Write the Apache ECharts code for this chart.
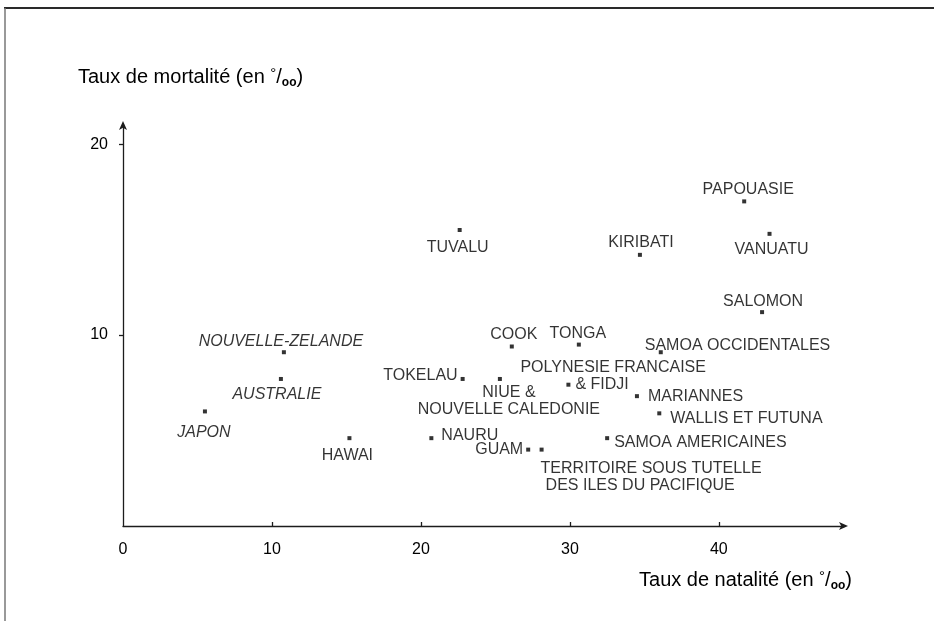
<!DOCTYPE html>
<html>
<head>
<meta charset="utf-8">
<script src="https://cdn.jsdelivr.net/npm/echarts@6/dist/echarts.min.js"></script>
<style>
  html, body { margin: 0; padding: 0; background: #fff; }
  #chart { width: 934px; height: 621px; }
</style>
</head>
<body>
<div id="chart"></div>
<script>
// Taux de natalité / mortalité (‰) des pays et territoires du Pacifique
const pays = [
  'JAPON', 'NOUVELLE-ZELANDE', 'AUSTRALIE', 'HAWAI', 'NAURU', 'TOKELAU',
  'TUVALU', 'COOK', 'TONGA', 'NIUE & NOUVELLE CALEDONIE',
  'POLYNESIE FRANCAISE & FIDJI', 'MARIANNES', 'WALLIS ET FUTUNA',
  'SAMOA AMERICAINES', 'GUAM', 'TERRITOIRE SOUS TUTELLE DES ILES DU PACIFIQUE',
  'SAMOA OCCIDENTALES', 'PAPOUASIE', 'KIRIBATI', 'VANUATU', 'SALOMON'
];
const natalite = [
  5.5, 10.8, 10.6, 15.2, 20.7, 22.8,
  22.6, 26.1, 30.6, 25.3,
  29.9, 34.5, 36.0,
  32.5, 27.2, 28.1,
  36.1, 41.7, 34.7, 43.4, 42.9
];
const mortalite = [
  6.0, 9.1, 7.7, 4.6, 4.6, 7.7,
  15.5, 9.4, 9.5, 7.7,
  7.4, 6.8, 5.9,
  4.6, 4.0, 4.0,
  9.1, 17.0, 14.2, 15.3, 11.2
];
const xTicks = [0, 10, 20, 30, 40];
const yTicks = [10, 20];
const titreY = 'Taux de mortalité (en ';
const titreX = 'Taux de natalité (en ';

const FONT = '"Liberation Sans", Arial, Helvetica, sans-serif';
const INK = '#000';

// Label placement around each point: offset of the text anchor from the point
const placement = {
  'JAPON': { off: [-1, 21], italic: true },
  'NOUVELLE-ZELANDE': { off: [-3, -11], italic: true },
  'AUSTRALIE': { off: [-4, 16], italic: true },
  'HAWAI': { off: [-2, 17] },
  'NAURU': { off: [10, -3], align: 'left' },
  'TOKELAU': { off: [-5, -3], align: 'right' },
  'TUVALU': { off: [-2, 18] },
  'COOK': { off: [2, -12] },
  'TONGA': { off: [-1, -11] },
  'NIUE & NOUVELLE CALEDONIE': { off: [9, 22], rich: '{a|NIUE &}\n{a|NOUVELLE CALEDONIE}' },
  'POLYNESIE FRANCAISE & FIDJI': { off: [-48, -9], align: 'left', rich: '{a|POLYNESIE FRANCAISE}\n{b|& FIDJI}' },
  'MARIANNES': { off: [11, 0], align: 'left' },
  'WALLIS ET FUTUNA': { off: [11, 5], align: 'left' },
  'SAMOA AMERICAINES': { off: [7, 4], align: 'left' },
  'GUAM': { off: [-5, 0], align: 'right' },
  'TERRITOIRE SOUS TUTELLE DES ILES DU PACIFIQUE': { off: [-1, 27], align: 'left', rich: '{a|TERRITOIRE SOUS TUTELLE}\n{c|DES ILES DU PACIFIQUE}' },
  'SAMOA OCCIDENTALES': { off: [-16, -7], align: 'left' },
  'PAPOUASIE': { off: [4, -12] },
  'KIRIBATI': { off: [1, -12] },
  'VANUATU': { off: [2, 16] },
  'SALOMON': { off: [1, -11] }
};

const LABEL_SIZE = 16;
const richBase = { fontFamily: FONT, fontSize: LABEL_SIZE, color: INK, lineHeight: 17 };
const labelRich = {
  a: Object.assign({}, richBase),
  b: Object.assign({ padding: [0, 0, 0, 55] }, richBase),
  c: Object.assign({ padding: [0, 0, 0, 5] }, richBase)
};

const points = pays.map((nom, i) => {
  const p = placement[nom] || { off: [0, -12] };
  return {
    name: nom,
    value: [natalite[i], mortalite[i]],
    label: {
      show: true,
      position: 'inside',
      offset: p.off,
      align: p.align || 'center',
      verticalAlign: 'middle',
      fontStyle: p.italic ? 'italic' : 'normal',
      formatter: p.rich || nom,
      rich: labelRich
    }
  };
});

// Axis titles with a per-mille mark drawn as "°/oo"
const per1000 = (txt) => '{t|' + txt + '}{sup|°}{t|/}{sub|oo}{t|)}';
const nameRich = {
  t: { fontFamily: FONT, fontSize: 20, fontWeight: 'normal', color: INK, lineHeight: 23, verticalAlign: 'middle' },
  sup: { fontFamily: FONT, fontSize: 15, fontWeight: 'normal', color: INK, verticalAlign: 'top', lineHeight: 23 },
  sub: { fontFamily: FONT, fontSize: 12, fontWeight: 'bold', color: INK, verticalAlign: 'bottom', lineHeight: 20 }
};

const axisLineStyle = { color: '#1c1c1c', width: 1.3 };

const chart = echarts.init(document.getElementById('chart'));
chart.setOption({
  backgroundColor: '#ffffff',
  animation: false,
  textStyle: { fontFamily: FONT },
  title: [
    { text: per1000(titreY), left: 78, top: 66, padding: 0, textStyle: { fontWeight: 'normal', rich: nameRich } },
    { text: per1000(titreX), right: 82, top: 569, padding: 0, textStyle: { fontWeight: 'normal', rich: nameRich } }
  ],
  grid: { left: 123, right: 90, top: 125, bottom: 95, containLabel: false },
  xAxis: {
    type: 'value',
    min: 0,
    max: 48.4,
    interval: 10,
    axisLine: { show: true, lineStyle: axisLineStyle, symbol: ['none', 'arrow'], symbolSize: [6, 9], symbolOffset: [0, 4] },
    axisTick: { show: true, inside: true, length: 4, lineStyle: axisLineStyle, customValues: [10, 20, 30, 40] },
    axisLabel: { customValues: xTicks, margin: 16, fontSize: 16, color: INK, fontFamily: FONT },
    splitLine: { show: false }
  },
  yAxis: {
    type: 'value',
    min: 0,
    max: 21,
    interval: 10,
    axisLine: { show: true, lineStyle: axisLineStyle, symbol: ['none', 'arrow'], symbolSize: [6, 9], symbolOffset: [0, 4] },
    axisTick: { show: true, inside: false, length: 4, lineStyle: axisLineStyle, customValues: yTicks },
    axisLabel: { customValues: yTicks, margin: 15, fontSize: 16, color: INK, fontFamily: FONT },
    splitLine: { show: false }
  },
  graphic: [
    { type: 'line', shape: { x1: 4, y1: 8, x2: 934, y2: 8 }, style: { stroke: '#2a2a2a', lineWidth: 2 } },
    { type: 'line', shape: { x1: 5, y1: 8, x2: 5, y2: 621 }, style: { stroke: '#777', lineWidth: 1.5 } }
  ],
  series: [{
    type: 'scatter',
    symbol: 'rect',
    symbolSize: 4,
    itemStyle: { color: '#000' },
    label: { fontFamily: FONT, fontSize: LABEL_SIZE, color: INK },
    data: points
  }]
});
</script>
</body>
</html>
